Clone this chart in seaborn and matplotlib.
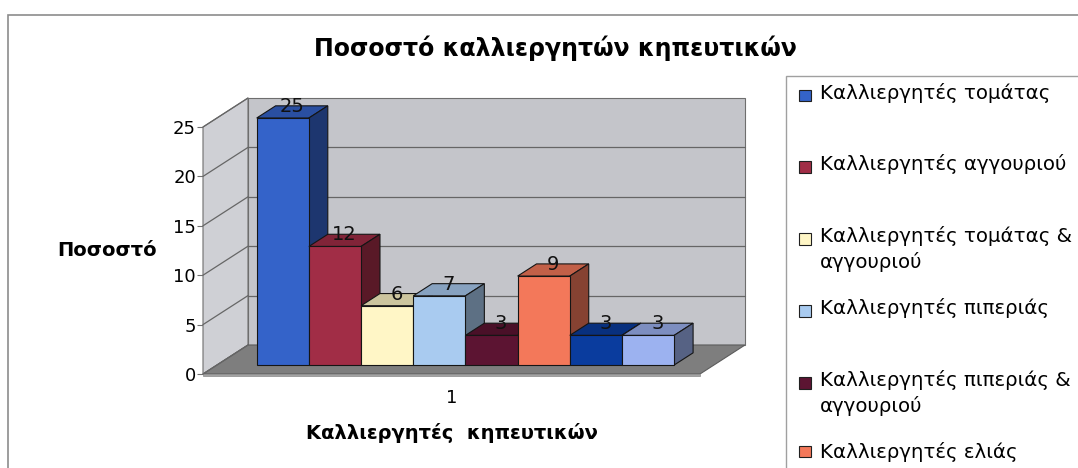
import matplotlib
matplotlib.use("Agg")
import matplotlib.pyplot as plt
import numpy as np
import pandas as pd
import seaborn as sns
from matplotlib.colors import to_rgb
from matplotlib.legend_handler import HandlerBase
from matplotlib.patches import Polygon, Rectangle

# ---- data -------------------------------------------------------------
categories = ["1"]
series = [
    "Καλλιεργητές τομάτας",
    "Καλλιεργητές αγγουριού",
    "Καλλιεργητές τομάτας &\nαγγουριού",
    "Καλλιεργητές πιπεριάς",
    "Καλλιεργητές πιπεριάς &\nαγγουριού",
    "Καλλιεργητές ελιάς",
    "Καλλιεργητές μελιτζάνας",
    "Καλλιεργητές κολοκυθιού",
]
values = [25, 12, 6, 7, 3, 9, 3, 3]
yticks = [0, 5, 10, 15, 20, 25]

title = "Ποσοστό καλλιεργητών κηπευτικών"
xlabel = "Καλλιεργητές  κηπευτικών"
ylabel = "Ποσοστό"

front_colors = ["#3463c9", "#a12d46", "#fff6c6", "#a9cbf0",
                "#5c1432", "#f3785a", "#0a3c9e", "#9cb2f0"]

# ---- style --------------------------------------------------------------
sns.set_style("white")
plt.rcParams["font.family"] = ["DejaVu Sans"]
for key in ("text.color", "axes.labelcolor", "xtick.labelcolor", "ytick.labelcolor"):
    plt.rcParams[key] = "black"

W, H = 1078, 468
fig = plt.figure(figsize=(W / 100, H / 100), dpi=100)
fig.patch.set_facecolor("white")

# front plane of the 3-D box (pixel frame)
x_left, x_right = 203, 700
y_floor, y_top = 374, 127
ax = fig.add_axes([x_left / W, 1 - y_floor / H,
                   (x_right - x_left) / W, (y_floor - y_top) / H])
ax.patch.set_visible(False)

df = pd.DataFrame({
    "group": categories * len(series),
    "series": series,
    "value": values,
})
sns.barplot(data=df, x="group", y="value", hue="series", hue_order=series,
            palette=dict(zip(series, front_colors)), width=0.84, gap=0,
            saturation=1, errorbar=None, edgecolor="#151515", linewidth=0.8,
            legend=False, ax=ax)

ax.set_xlim(-0.5, 0.5)
ax.set_ylim(0, yticks[-1])

# depth of the box, expressed in data units
depth_px = (45, 29)
px_per_x = (x_right - x_left) / 1.0
px_per_y = (y_floor - y_top) / yticks[-1]
ddx, ddy = depth_px[0] / px_per_x, depth_px[1] / px_per_y


def P(x, y, d):
    return (x + d * ddx, y + d * ddy)


def face(pts, fc, ec="#6e6e6e", lw=0.8, z=1.0):
    poly = Polygon(pts, closed=True, facecolor=fc, edgecolor=ec,
                   linewidth=lw, zorder=z, clip_on=False)
    ax.add_patch(poly)
    return poly


x0, x1, ytop = -0.5, 0.5, yticks[-1]
# walls and floor
face([P(x0, 0, 1), P(x1, 0, 1), P(x1, ytop, 1), P(x0, ytop, 1)], "#c4c5ca", z=0.5)
face([P(x0, 0, 0), P(x0, 0, 1), P(x0, ytop, 1), P(x0, ytop, 0)], "#cfd0d5", z=0.6)
face([P(x0, 0, 0), P(x1, 0, 0), P(x1, 0, 1), P(x0, 0, 1)], "#7e7e7e", ec="#5c5c5c", z=0.7)
face([P(x0, -0.25, 0), P(x1, -0.25, 0), P(x1, 0, 0), P(x0, 0, 0)], "#a3a3a3", ec="#8a8a8a", lw=0.5, z=0.7)

# gridlines on the back wall and the side wall
for v in yticks[1:-1]:
    a, b = P(x0, v, 1), P(x1, v, 1)
    ax.plot([a[0], b[0]], [a[1], b[1]], color="#666666", lw=0.9, zorder=0.8, clip_on=False)
for v in yticks:
    a, b = P(x0, v, 0), P(x0, v, 1)
    ax.plot([a[0], b[0]], [a[1], b[1]], color="#666666", lw=0.9, zorder=0.8, clip_on=False)

# bars: push the seaborn fronts into the box and add top / side faces
f0, f1 = 0.31, 0.73
bars = [p for p in ax.patches
        if isinstance(p, Rectangle) and p.get_height() > 0 and p.get_width() < 0.5]
bars = sorted(bars, key=lambda p: p.get_x())


def shade(c, k):
    r, g, b = to_rgb(c)
    return (r * k, g * k, b * k)


for i, bar in enumerate(bars):
    bx, bw, h = bar.get_x(), bar.get_width(), bar.get_height()
    col = bar.get_facecolor()
    z = 3 + i * 0.1
    bar.set_x(bx + f0 * ddx)
    bar.set_y(f0 * ddy)
    bar.set_zorder(z + 0.05)
    bar.set_clip_on(False)
    top = [P(bx, h, f0), P(bx + bw, h, f0), P(bx + bw, h, f1), P(bx, h, f1)]
    side = [P(bx + bw, 0, f0), P(bx + bw, h, f0), P(bx + bw, h, f1), P(bx + bw, 0, f1)]
    face(top, shade(col, 0.8), ec="#151515", z=z)
    face(side, shade(col, 0.55), ec="#151515", z=z)
    lx, ly = P(bx + bw / 2, h, (f0 + f1) / 2)
    ax.text(lx, ly, f"{h:g}", ha="center", va="baseline", fontsize=14,
            color="#111111", zorder=10, clip_on=False)

# axes decorations
for s in ax.spines.values():
    s.set_visible(False)
ax.set_yticks(yticks)
ax.set_xticks([0])
ax.set_xticklabels(categories)
ax.tick_params(axis="y", length=4.5, width=0.8, color="#707070", pad=0.5,
               labelsize=13, left=True, direction="out")
ax.tick_params(axis="x", length=0, pad=11, labelsize=13)
ax.set_xlabel(xlabel, fontsize=14, fontweight="bold", labelpad=11)
ax.set_ylabel(ylabel, fontsize=14, fontweight="bold", rotation=0,
              ha="center", va="center")
ax.yaxis.set_label_coords((107 - x_left) / (x_right - x_left),
                          (y_floor - 250) / (y_floor - y_top))
ax.grid(False)

fig.suptitle(title, x=555 / W, y=1 - 48 / H, va="center",
             fontsize=17, fontweight="bold", color="black")

# chart-area border
fig.patches.append(Rectangle((8 / W, -0.2), 1.2, (H - 15) / H + 0.2,
                             transform=fig.transFigure, fill=False,
                             edgecolor="#8c8c8c", linewidth=1.2))


# legend: small squares, right-aligned in the handle box and lined up
# with the first text line of each entry
class FirstLineSquare(HandlerBase):
    def __init__(self, lift):
        super().__init__()
        self.lift = lift

    def create_artists(self, legend, orig_handle, xdescent, ydescent,
                       width, height, fontsize, trans):
        s = 0.6 * fontsize
        x = -xdescent + width - s
        y = -ydescent + (height - s) / 2 + self.lift
        r = Rectangle((x, y), s, s,
                      facecolor=orig_handle.get_facecolor(),
                      edgecolor="#202020", linewidth=0.8, transform=trans)
        return [r]


leg_fs = 14.2
leg_ls = 1.42
shown = 6
lift = 0.5 * leg_ls * 0.76 * leg_fs
# every entry gets a two-line slot except the last one listed
labels = [s if ("\n" in s or i == shown - 1) else s + "\n"
          for i, s in enumerate(series[:shown])]
handler_map = {bars[i]: FirstLineSquare(lift if "\n" in labels[i] else 0.0)
               for i in range(shown)}
leg = ax.legend(bars[:shown], labels, loc="upper left",
                bbox_to_anchor=(786 / W, 1 - 76 / H),
                bbox_transform=fig.transFigure, borderaxespad=0,
                fontsize=leg_fs, frameon=True, fancybox=False,
                edgecolor="#a0a0a0", facecolor="white", framealpha=1,
                handlelength=0.91, handletextpad=0.45, borderpad=0.35,
                labelspacing=1.32, handler_map=handler_map)
leg.get_frame().set_linewidth(1.0)
for t in leg.get_texts():
    t.set_linespacing(leg_ls)

fig.savefig("out.png", dpi=100)
